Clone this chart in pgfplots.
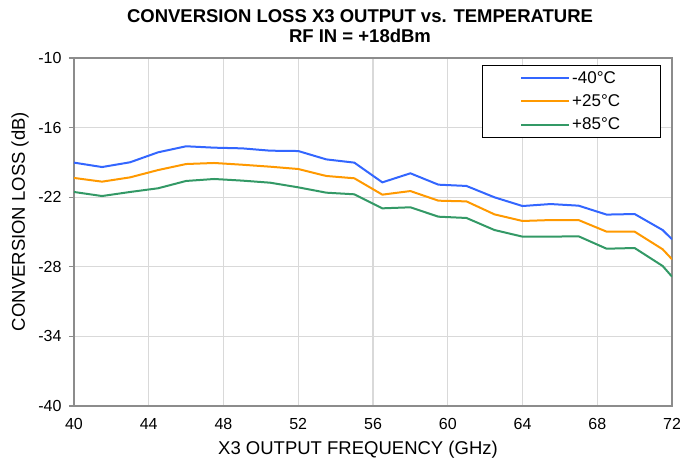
\documentclass[border=0pt]{standalone}
\usepackage{pgfplots}
\pgfplotsset{compat=1.18}
\usepackage{fontspec}
\setmainfont{Liberation Sans}
\definecolor{cblue}{HTML}{3366FF}
\definecolor{corange}{HTML}{FF9900}
\definecolor{cgreen}{HTML}{339966}
\definecolor{cgrid}{HTML}{D9D9D9}
\definecolor{cframe}{HTML}{8C8C8C}
\begin{document}
\begin{tikzpicture}
\path[use as bounding box] (-74pt,-60pt) rectangle (606pt,406pt);
\begin{axis}[
  at={(0pt,0pt)}, anchor=south west,
  width=598pt, height=348pt, scale only axis,
  xmin=40, xmax=72, ymin=-40, ymax=-10,
  xtick={40,44,...,72}, ytick={-40,-34,...,-10},
  grid=major,
  major grid style={cgrid, line width=1.2pt},
  axis line style={cframe, line width=1.6pt},
  tick align=outside,
  xtick style={draw=none},
  ytick style={cframe, line width=1.2pt},
  major tick length=5pt,
  ytick pos=left,
  /pgf/number format/assume math mode=true,
  ticklabel style={font=\fontsize{16}{19}\selectfont},
  xticklabel style={yshift=-4pt},
  yticklabel style={xshift=-4pt},
  xlabel={X3 OUTPUT FREQUENCY (GHz)},
  ylabel={CONVERSION LOSS (dB)},
  every axis x label/.style={at={(axis description cs:0.5,-0.126)}, anchor=center, xshift=-15pt, font=\fontsize{18.5}{22}\selectfont},
  every axis y label/.style={at={(axis description cs:-0.090,0.530)}, rotate=90, anchor=center, font=\fontsize{18.5}{22}\selectfont},
  title={CONVERSION LOSS X3 OUTPUT vs. TEMPERATURE\\RF IN = +18dBm},
  title style={font=\bfseries\fontsize{18.5}{20}\selectfont, align=center, at={(axis description cs:0.5,1)}, anchor=south, yshift=6pt, xshift=-13pt},
  legend style={at={(0.682,0.98)}, anchor=north west, draw=black, line width=0.8pt,
    font=\fontsize{17}{20}\selectfont, inner xsep=38pt, inner ysep=4pt,
    row sep=6pt},
  legend cell align=left,
  legend image code/.code={\draw[#1, line width=2pt] (0pt,0pt) -- (48pt,0pt);},
]
\addplot[cblue, line width=2pt] coordinates {
(40,-19.02) (41.5,-19.40) (43,-18.99) (44.5,-18.13) (46,-17.61) (47.5,-17.73)
(49,-17.79) (50.5,-17.99) (52,-18.02) (53.5,-18.74) (55,-19.02) (56.5,-20.72)
(58,-19.94) (59.5,-20.92) (61,-21.03) (62.5,-22.01) (64,-22.76) (65.5,-22.59)
(67,-22.73) (68.5,-23.50) (70,-23.45) (71.5,-24.83) (72,-25.63)};
\addlegendentry{-40°C}
\addplot[corange, line width=2pt] coordinates {
(40,-20.34) (41.5,-20.66) (43,-20.29) (44.5,-19.66) (46,-19.14) (47.5,-19.05)
(49,-19.20) (50.5,-19.37) (52,-19.57) (53.5,-20.17) (55,-20.37) (56.5,-21.78)
(58,-21.47) (59.5,-22.30) (61,-22.36) (62.5,-23.48) (64,-24.05) (65.5,-23.97)
(67,-23.97) (68.5,-24.97) (70,-24.97) (71.5,-26.49) (72,-27.35)};
\addlegendentry{+25°C}
\addplot[cgreen, line width=2pt] coordinates {
(40,-21.55) (41.5,-21.90) (43,-21.55) (44.5,-21.23) (46,-20.60) (47.5,-20.43)
(49,-20.57) (50.5,-20.75) (52,-21.15) (53.5,-21.61) (55,-21.75) (56.5,-22.96)
(58,-22.87) (59.5,-23.68) (61,-23.79) (62.5,-24.83) (64,-25.40) (65.5,-25.40)
(67,-25.37) (68.5,-26.44) (70,-26.38) (71.5,-27.93) (72,-28.85)};
\addlegendentry{+85°C}
\end{axis}
\end{tikzpicture}
\end{document}
